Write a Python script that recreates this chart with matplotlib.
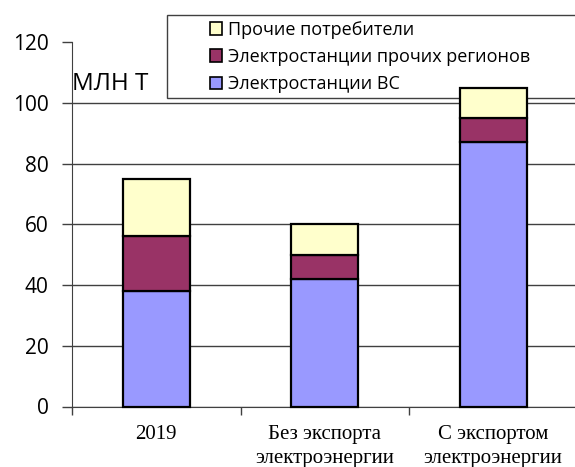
import matplotlib
matplotlib.use("Agg")
import matplotlib.pyplot as plt
from matplotlib.patches import Patch, Rectangle
import numpy as np

categories = ["2019", "Без экспорта\nэлектроэнергии", "С экспортом\nэлектроэнергии"]
vs_plants = [38, 42, 87]
other_regions = [18, 8, 8]
other_consumers = [19, 10, 10]
series_names = ["Электростанции ВС", "Электростанции прочих регионов", "Прочие потребители"]
colors = ["#9999FF", "#993366", "#FFFFCC"]
yticks = [0, 20, 40, 60, 80, 100, 120]

W, H = 575, 467
fig = plt.figure(figsize=(W / 100, H / 100), dpi=100)
left, right, bottom, top = 72, 577.5, 406.5, 42
ax = fig.add_axes([left / W, 1 - bottom / H, (right - left) / W, (bottom - top) / H])

x = np.arange(len(categories))
series = [vs_plants, other_regions, other_consumers]
base = np.zeros(len(categories))
for vals, c, name in zip(series, colors, series_names):
    ax.bar(x, vals, bottom=base, width=0.40, color=c, edgecolor="black",
           linewidth=1.6, zorder=3, label=name, clip_on=False)
    base = base + np.array(vals)

ax.set_xlim(-0.5, 2.5)
ax.set_ylim(0, 120)
ax.set_yticks(yticks)
ax.set_yticklabels([str(v) for v in yticks], fontfamily="Open Sans", fontsize=15)
for v in yticks[:-1]:
    ax.axhline(v, color="#404040", linewidth=1.0, zorder=1)

ax.set_xticks(x)
ax.set_xticklabels(categories, fontfamily="Liberation Serif", fontsize=15, linespacing=1.4)
ax.tick_params(axis="x", which="major", length=0, pad=13)
ax.set_xticks([-0.5, 0.5, 1.5, 2.5], minor=True)
ax.tick_params(axis="x", which="minor", length=6, width=1.0, color="#404040", direction="out")
ax.tick_params(axis="y", length=7, width=1.0, color="#404040", pad=10)

for s in ["top", "right"]:
    ax.spines[s].set_visible(False)
ax.spines["left"].set_color("#404040")
ax.spines["bottom"].set_color("#404040")

fig.text(72 / W, 1 - 84 / H, "МЛН Т", fontfamily="Open Sans", fontsize=17.5,
         va="center", ha="left")

# legend frame (drawn beneath the bars, as in the reference)
lx0, ly0, lx1, ly1 = 167, 15, 590, 97.5
ax.add_patch(Rectangle((lx0 / W, 1 - ly1 / H), (lx1 - lx0) / W, (ly1 - ly0) / H,
                       transform=fig.transFigure, facecolor="white",
                       edgecolor="#404040", linewidth=1.0, zorder=2, clip_on=False))
handles = [Patch(facecolor=c, edgecolor="black", linewidth=1.2) for c in colors][::-1]
labels = series_names[::-1]
leg = ax.legend(handles, labels, loc="upper left",
                bbox_to_anchor=(205 / W, 1 - 16 / H), bbox_transform=fig.transFigure,
                frameon=False,
                prop={"family": "Open Sans", "size": 13},
                handlelength=0.7, handleheight=0.7, handletextpad=0.3,
                labelspacing=0.52, borderpad=0.25, borderaxespad=0)
leg.set_zorder(2.5)

fig.savefig("out.png", dpi=100)
